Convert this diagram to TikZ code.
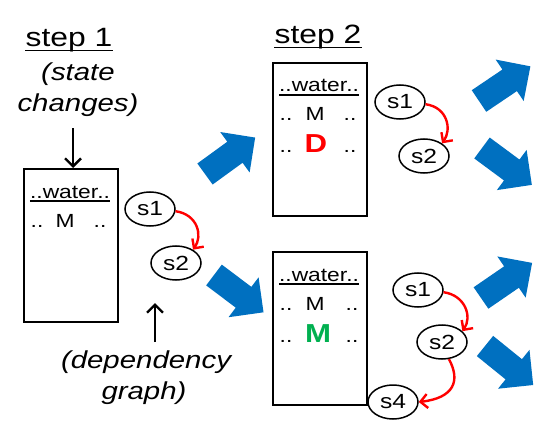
\documentclass[tikz,border=0pt]{standalone}
\usepackage{fontspec}
\setmainfont[FakeStretch=1.2]{Liberation Sans}
\usetikzlibrary{arrows.meta,shapes.geometric}
\definecolor{arrowblue}{RGB}{0,112,192}
\definecolor{mgreen}{RGB}{0,176,80}
\definecolor{mred}{RGB}{255,0,0}
\newcommand\blockarrow[3]{%
  \begin{scope}[shift={(#1,#2)},rotate=#3]
    \fill[arrowblue] (0,-13) -- (37,-13) -- (37,-25) -- (62,0) -- (37,25) -- (37,13) -- (0,13) -- cycle;
  \end{scope}}
\begin{document}
\begin{tikzpicture}[x=1pt,y=-1pt,
  box/.style={draw,line width=2.2pt,minimum width=94pt,minimum height=153pt,inner sep=0pt,anchor=north west},
  st/.style={ellipse,draw,line width=1.5pt,minimum width=50pt,minimum height=34pt,inner sep=0pt,font=\fontsize{20.5}{20.5}\selectfont},
  txt/.style={inner sep=0pt,anchor=base,font=\fontsize{19}{19}\selectfont},
  big/.style={inner sep=0pt,anchor=base,font=\fontsize{26.5}{26.5}\selectfont},
  note/.style={inner sep=0pt,anchor=base,font=\fontsize{24.5}{24.5}\selectfont\itshape},
  bold/.style={inner sep=0pt,anchor=base,font=\fontsize{26}{26}\selectfont\bfseries},
  uline/.style={line width=1.8pt},
  dep/.style={draw=mred,line width=2.4pt,-{Straight Barb[length=7pt,width=14pt]}},
  blk/.style={line width=2.4pt,-{Straight Barb[length=8pt,width=16pt]}}]
\fill[white] (0,0) rectangle (536,428);
\useasboundingbox (0,0) rectangle (536,428);

% headings
\node[big] (st1) at (69,47) {step 1};
\draw[uline] ([yshift=-3.5pt]st1.base west) -- ([yshift=-3.5pt]st1.base east);
\node[big] (st2) at (318,44) {step 2};
\draw[uline] ([yshift=-3.5pt]st2.base west) -- ([yshift=-3.5pt]st2.base east);

\node[note] (sc1) at (78,81) {(state};
\node[note] (sc2) at (78,112) {changes)};
\node[note] (dg1) at (146,368) {(dependency};
\node[note] (dg2) at (144,399) {graph)};

% boxes
\node[box] (b1) at (23,168) {};
\node[box] (b2) at (272,62) {};
\node[box] (b3) at (272,251) {};

% box 1 contents
\node[txt] (w1) at (70,198) {..water..};
\draw[uline] ([yshift=-3pt]w1.base west) -- ([yshift=-3pt]w1.base east);
\node[txt] (d1a) at (37,227) {..};
\node[txt] (m1) at (65,227) {M};
\node[txt] (d1b) at (100,227) {..};

% box 2 contents
\node[txt] (w2) at (319,92) {..water..};
\draw[uline] ([yshift=-3pt]w2.base west) -- ([yshift=-3pt]w2.base east);
\node[txt] (d2a) at (286,121) {..};
\node[txt] (m2) at (315,121) {M};
\node[txt] (d2b) at (350,121) {..};
\node[txt] (d2c) at (286,153) {..};
\node[bold,text=mred] (dd2) at (316,153) {D};
\node[txt] (d2d) at (350,153) {..};

% box 3 contents
\node[txt] (w3) at (319,281) {..water..};
\draw[uline] ([yshift=-3pt]w3.base west) -- ([yshift=-3pt]w3.base east);
\node[txt] (d3a) at (286,310) {..};
\node[txt] (m3) at (315,310) {M};
\node[txt] (d3b) at (352,310) {..};
\node[txt] (d3c) at (286,342) {..};
\node[bold,text=mgreen] (mm3) at (318,342) {M};
\node[txt] (d3d) at (352,342) {..};

% dependency graphs
\node[st] (g1a) at (150,209) {s1};
\node[st] (g1b) at (176,263) {s2};
\draw[dep] (g1a.-5) .. controls +(22,3) and +(10,-14) .. (g1b.38);

\node[st] (g2a) at (400,102) {s1};
\node[st] (g2b) at (424,156) {s2};
\draw[dep] (g2a.-5) .. controls +(22,3) and +(10,-14) .. (g2b.35);

\node[st] (g3a) at (418,290) {s1};
\node[st] (g3b) at (442,342) {s2};
\node[st] (g3c) at (393,402) {s4};
\draw[dep] (g3a.-5) .. controls +(22,3) and +(10,-14) .. (g3b.28);
\draw[dep] (g3b.-68) .. controls +(12,22) and +(35,-4) .. (g3c.east);

% black pointer arrows
\coordinate (p1) at (73,128);
\draw[blk] (p1) -- (p1 |- b1.north);
\coordinate (p2) at (155,342);
\coordinate (p2e) at (155,303);
\draw[blk] (p2) -- (p2e);

% blue block arrows
\blockarrow{205}{174}{36}
\blockarrow{214}{275}{-37}
\blockarrow{479}{101}{34}
\blockarrow{482}{148}{-36.5}
\blockarrow{481}{298}{34.5}
\blockarrow{485}{346}{-39}
\end{tikzpicture}
\end{document}
